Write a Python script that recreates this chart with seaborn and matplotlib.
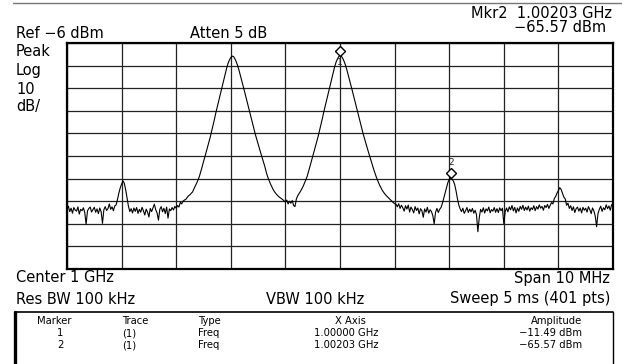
import matplotlib
matplotlib.use("Agg")
import matplotlib.pyplot as plt
import matplotlib.transforms as mtransforms
from matplotlib.lines import Line2D
import numpy as np
import pandas as pd
import seaborn as sns

# Analyzer settings
start_mhz = 995.0
stop_mhz = 1005.0
n_pts = 401
ref_dbm = -6
bottom_dbm = -106

# Trace amplitude in dBm, one value per sweep point
trace_dbm = [
    -79.5, -78.2, -80.6, -79.1, -81.3, -78.8, -79.9, -80.4, -78.5, -81.7, -79.6, -80.2, -78.9, -81.0, -86.2, -80.3, -79.2, -78.6, -80.8, -79.7,
    -78.7, -80.9, -79.4, -81.5, -79.0, -80.6, -85.8, -79.8, -78.4, -80.1, -79.3, -77.2, -79.6, -78.5, -80.2, -78.1, -77.6, -75.2, -72.4, -70.1,
    -68.4, -67.0, -68.1, -71.0, -74.6, -78.2, -80.6, -79.3, -81.2, -79.0, -80.5, -78.8, -81.4, -79.6, -80.9, -78.7, -80.3, -82.1, -79.5, -80.8,
    -83.0, -79.2, -80.6, -78.9, -77.3, -79.8, -81.2, -84.4, -79.6, -78.4, -80.7, -79.1, -81.5, -78.6, -83.5, -79.4, -80.2, -78.8, -79.9, -78.3,
    -79.1, -77.9, -78.6, -76.5, -77.2, -76.0, -75.5, -75.2, -74.4, -73.6, -73.2, -72.5, -71.9, -70.5, -69.3, -68.0, -66.6, -65.0, -62.9, -60.8,
    -58.5, -56.4, -54.2, -52.0, -49.8, -47.5, -45.0, -42.5, -39.8, -37.0, -34.5, -32.0, -29.5, -27.0, -24.5, -22.0, -19.5, -17.0, -15.0, -13.5,
    -12.4, -11.8, -12.0, -13.0, -14.3, -16.0, -18.0, -20.3, -22.6, -25.0, -27.3, -29.7, -32.0, -34.4, -36.8, -39.3, -41.8, -44.2, -46.5, -48.6,
    -50.7, -52.8, -54.8, -56.8, -58.8, -60.8, -63.2, -65.2, -66.8, -68.3, -69.6, -70.8, -71.8, -72.6, -73.3, -73.9, -74.4, -74.8, -75.3, -75.8,
    -76.4, -75.5, -77.2, -76.0, -76.9, -75.7, -77.8, -78.4, -75.1, -73.6, -72.6, -71.7, -70.6, -69.4, -68.0, -66.5, -64.9, -62.8, -60.6, -58.4,
    -56.2, -54.0, -51.8, -49.6, -47.3, -44.8, -42.3, -39.6, -36.8, -34.3, -31.8, -29.3, -26.8, -24.2, -21.7, -19.2, -16.7, -14.7, -13.2, -12.1,
    -11.49, -11.8, -12.8, -14.1, -15.8, -17.8, -20.1, -22.4, -24.8, -27.1, -29.5, -31.8, -34.2, -36.6, -39.1, -41.6, -44.0, -46.3, -48.4, -50.5,
    -52.6, -54.6, -56.6, -58.6, -60.6, -62.5, -64.3, -66.0, -67.5, -68.9, -70.1, -71.2, -72.1, -72.9, -73.6, -74.2, -74.8, -75.4, -76.0, -76.6,
    -77.1, -77.3, -78.5, -77.1, -79.2, -77.8, -78.9, -80.4, -78.0, -79.5, -77.7, -80.8, -78.6, -79.7, -81.2, -78.4, -80.1, -79.0, -81.6, -79.3,
    -80.2, -83.1, -79.4, -80.8, -78.7, -81.3, -79.8, -80.6, -82.4, -86.0, -80.9, -79.2, -81.0, -79.6, -78.8, -77.0, -74.6, -72.4, -70.1, -67.8,
    -66.4, -65.57, -66.3, -67.0, -68.6, -71.4, -74.8, -77.6, -79.4, -80.6, -79.1, -81.4, -80.2, -78.8, -81.0, -79.5, -80.7, -79.2, -81.3, -80.0,
    -82.0, -89.5, -83.4, -79.6, -80.8, -78.9, -81.2, -79.4, -80.3, -78.6, -81.1, -79.7, -80.4, -78.8, -80.9, -79.3, -81.0, -78.9, -80.2, -79.1,
    -86.0, -80.6, -79.0, -80.7, -78.5, -79.8, -77.9, -80.3, -78.7, -81.2, -79.0, -80.5, -78.3, -79.6, -77.8, -80.1, -78.6, -79.9, -78.2, -80.4,
    -78.9, -79.7, -78.0, -80.2, -78.4, -79.5, -77.6, -79.1, -78.3, -80.0, -77.9, -78.8, -77.4, -79.2, -77.8, -76.6, -77.2, -74.8, -73.9, -72.4,
    -71.3, -70.0, -70.8, -72.5, -74.2, -75.0, -77.8, -76.9, -79.2, -78.0, -80.1, -78.5, -81.0, -79.3, -78.6, -80.4, -79.0, -81.2, -78.7, -80.0,
    -79.1, -80.8, -78.4, -79.7, -81.5, -79.0, -80.3, -82.6, -87.3, -81.4, -79.6, -78.2, -80.5, -78.9, -79.8, -77.6, -79.3, -78.1, -80.0, -77.5,
    -78.0,
]

# Markers
marker_ids = ["1", "2"]
marker_freq_mhz = [1000.00, 1002.03]
marker_amp_dbm = [-11.49, -65.57]
marker_type = ["Freq", "Freq"]
marker_trace = ["(1)", "(1)"]
marker_x_text = ["1.00000 GHz", "1.00203 GHz"]
marker_amp_text = ["\u221211.49 dBm", "\u221265.57 dBm"]

freq = np.linspace(start_mhz, stop_mhz, n_pts)
df = pd.DataFrame({"freq": freq, "amp": trace_dbm})

sns.set_style("white")
plt.rcParams["font.family"] = ["DejaVu Sans"]

W, H = 622, 364
fig = plt.figure(figsize=(W / 100, H / 100), dpi=100)
fig.patch.set_facecolor("white")

# plot frame in pixels: x 67..613, y 43..269
ax = fig.add_axes([67 / W, 1 - 269 / H, (613 - 67) / W, (269 - 43) / H])
sns.lineplot(data=df, x="freq", y="amp", color="black", linewidth=0.8, ax=ax, sort=False)
ax.set_xlim(start_mhz, stop_mhz)
ax.set_ylim(bottom_dbm, ref_dbm)
ax.set_xticks(np.linspace(start_mhz, stop_mhz, 11))
ax.set_yticks(np.linspace(bottom_dbm, ref_dbm, 11))
ax.grid(True, color="#222222", linewidth=0.9)
ax.tick_params(length=0, labelbottom=False, labelleft=False)
ax.set_xlabel("")
ax.set_ylabel("")
for s in ax.spines.values():
    s.set_color("black")
    s.set_linewidth(1.6)

# marker diamonds sit just above the trace point
up = mtransforms.offset_copy(ax.transData, fig=fig, x=0, y=3.2, units="points")
ax.plot(marker_freq_mhz, marker_amp_dbm, linestyle="none", marker="D", ms=4.6,
        mfc="white", mec="black", mew=1.0, transform=up, zorder=5, clip_on=False)
ax.annotate(marker_ids[0], (marker_freq_mhz[0], marker_amp_dbm[0]), xytext=(0, -5),
            textcoords="offset points", ha="center", va="center", fontsize=6.5)
ax.annotate(marker_ids[1], (marker_freq_mhz[1], marker_amp_dbm[1]), xytext=(0, 11),
            textcoords="offset points", ha="center", va="center", fontsize=6.5)


def px_text(x, y, s, ha="left", size=10.5):
    fig.text(x / W, 1 - y / H, s, ha=ha, va="center", fontsize=size, color="black")


# top rule
fig.add_artist(Line2D([13 / W, 1.0], [1 - 3 / H, 1 - 3 / H], color="#777777", lw=1.0))

px_text(612, 13, "Mkr2  1.00203 GHz", ha="right")
px_text(606, 27, "\u221265.57 dBm", ha="right")
px_text(16, 33, "Ref \u22126 dBm")
px_text(190, 33, "Atten 5 dB")
for yy, s in zip([51, 70, 89, 107], ["Peak", "Log", "10", "dB/"]):
    px_text(16, yy, s)

px_text(16, 278, "Center 1 GHz")
px_text(610, 278, "Span 10 MHz", ha="right")
px_text(16, 299, "Res BW 100 kHz")
px_text(315, 299, "VBW 100 kHz", ha="center")
px_text(610, 299, "Sweep 5 ms (401 pts)", ha="right")

# marker table box
fig.add_artist(Line2D([15 / W, 613 / W], [1 - 312 / H, 1 - 312 / H], color="black", lw=1.2))
fig.add_artist(Line2D([15 / W, 15 / W], [1 - 312 / H, 0], color="black", lw=2.4))
fig.add_artist(Line2D([613 / W, 613 / W], [1 - 312 / H, 0], color="black", lw=1.0))

ts = 7.2
px_text(54, 321, "Marker", ha="center", size=ts)
px_text(135, 321, "Trace", ha="center", size=ts)
px_text(198, 321, "Type", size=ts)
px_text(350, 321, "X Axis", ha="center", size=ts)
px_text(582, 321, "Amplitude", ha="right", size=ts)
for k, yy in enumerate([333, 345]):
    px_text(60, yy, marker_ids[k], ha="center", size=ts)
    px_text(129, yy, marker_trace[k], ha="center", size=ts)
    px_text(198, yy, marker_type[k], size=ts)
    px_text(346, yy, marker_x_text[k], ha="center", size=ts)
    px_text(582, yy, marker_amp_text[k], ha="right", size=ts)

fig.savefig("out.png", dpi=100, facecolor="white")
